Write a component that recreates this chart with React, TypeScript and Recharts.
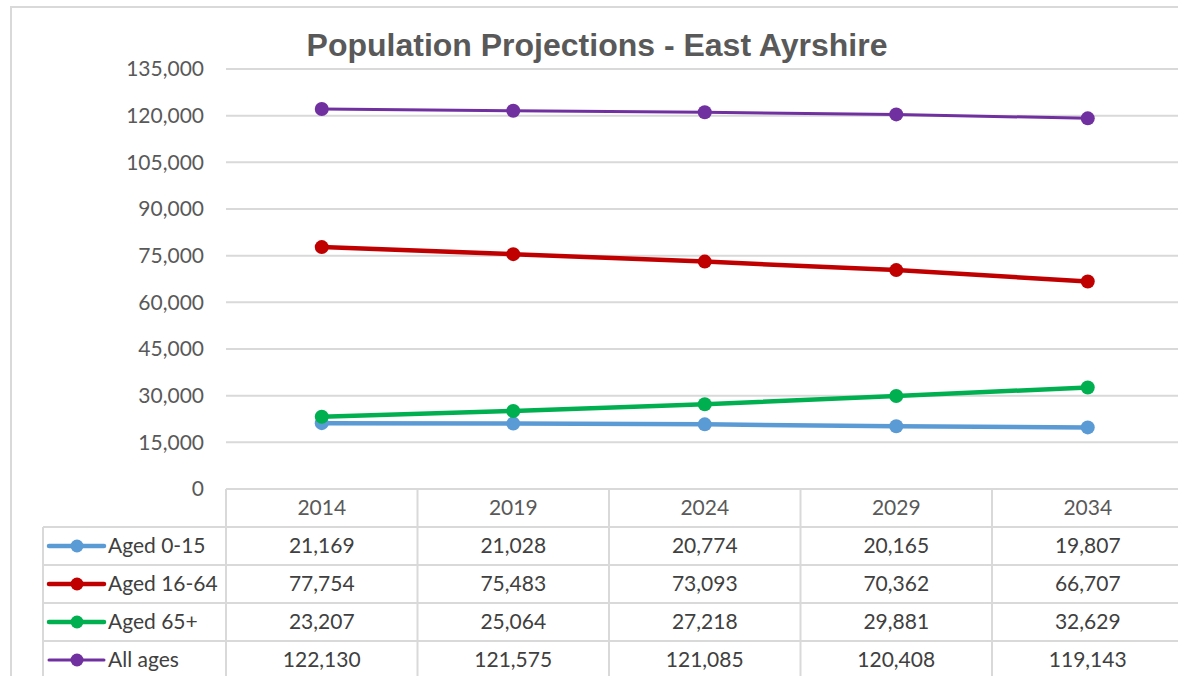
import React from 'react';
import { LineChart, Line, XAxis, YAxis, CartesianGrid } from 'recharts';

const years = ['2014', '2019', '2024', '2029', '2034'];
const aged0to15 = [21169, 21028, 20774, 20165, 19807];
const aged16to64 = [77754, 75483, 73093, 70362, 66707];
const aged65plus = [23207, 25064, 27218, 29881, 32629];
const allAges = [122130, 121575, 121085, 120408, 119143];
const yTicks = [0, 15000, 30000, 45000, 60000, 75000, 90000, 105000, 120000, 135000];

const series = [
  { key: 'young', name: 'Aged 0-15', values: aged0to15, color: '#5B9BD5', width: 4.5 },
  { key: 'working', name: 'Aged 16-64', values: aged16to64, color: '#C00000', width: 4.5 },
  { key: 'old', name: 'Aged 65+', values: aged65plus, color: '#00B050', width: 4.5 },
  { key: 'all', name: 'All ages', values: allAges, color: '#7030A0', width: 3 },
];

const data = years.map((year, i) => {
  const row: Record<string, string | number> = { year };
  series.forEach((s) => (row[s.key] = s.values[i]));
  return row;
});

// layout
const W = 1178;
const H = 676;
const PLOT_LEFT = 226;
const PLOT_TOP = 69;
const PLOT_BOTTOM = 489;
const COL_W = 191.5;
const ROW_H = 38;
const TABLE_LEFT = 43;
const FONT = 'Lato, "Noto Sans", sans-serif';
const GRID = '#d9d9d9';

const fmt = (v: number) => v.toLocaleString('en-US');

function DataTable() {
  const right = PLOT_LEFT + COL_W * years.length;
  const bottom = H + 10;
  return (
    <svg width={W} height={H} style={{ position: 'absolute', left: 0, top: 0, pointerEvents: 'none' }}>
      <text x={597} y={56} textAnchor="middle" fill="#595959" fontSize={32} fontWeight="bold"
        fontFamily='"Liberation Sans Narrow", "Liberation Sans", Arial, sans-serif'>
        Population Projections - East Ayrshire
      </text>
      {/* table grid */}
      <line x1={PLOT_LEFT} y1={PLOT_BOTTOM} x2={PLOT_LEFT} y2={bottom} stroke={GRID} strokeWidth={2} />
      <line x1={TABLE_LEFT} y1={PLOT_BOTTOM + ROW_H} x2={TABLE_LEFT} y2={bottom} stroke={GRID} strokeWidth={2} />
      {years.map((_, i) => (
        <line key={'v' + i} x1={PLOT_LEFT + COL_W * (i + 1)} y1={PLOT_BOTTOM} x2={PLOT_LEFT + COL_W * (i + 1)} y2={bottom} stroke={GRID} strokeWidth={2} />
      ))}
      {series.map((_, r) => (
        <line key={'h' + r} x1={TABLE_LEFT} y1={PLOT_BOTTOM + ROW_H * (r + 1)} x2={right} y2={PLOT_BOTTOM + ROW_H * (r + 1)} stroke={GRID} strokeWidth={2} />
      ))}
      {/* header */}
      {years.map((y, i) => (
        <text key={'y' + i} x={PLOT_LEFT + COL_W * (i + 0.5)} y={PLOT_BOTTOM + ROW_H / 2 + 7} textAnchor="middle"
          fill="#595959" fontSize={21} fontFamily={FONT}>{y}</text>
      ))}
      {series.map((s, r) => {
        const cy = PLOT_BOTTOM + ROW_H * (r + 1.5);
        return (
          <g key={s.key}>
            <line x1={49} y1={cy} x2={104} y2={cy} stroke={s.color} strokeWidth={s.width} strokeLinecap="round" />
            <circle cx={77} cy={cy} r={6.5} fill={s.color} />
            <text x={108} y={cy + 7} fill="#404040" fontSize={21} fontFamily={FONT}>{s.name}</text>
            {s.values.map((v, i) => (
              <text key={i} x={PLOT_LEFT + COL_W * (i + 0.5)} y={cy + 7} textAnchor="middle"
                fill="#404040" fontSize={21} fontFamily={FONT}>{fmt(v)}</text>
            ))}
          </g>
        );
      })}
    </svg>
  );
}

export default function App() {
  const chartW = Math.ceil(PLOT_LEFT + COL_W * years.length);
  return (
    <div style={{ position: 'absolute', left: 0, top: 0, width: W, height: H, overflow: 'hidden', background: '#fff' }}>
      <div style={{ position: 'absolute', left: 10, top: 6, right: -10, bottom: -10, borderLeft: `2px solid ${GRID}`, borderTop: `2px solid ${GRID}` }} />
      <div style={{ position: 'absolute', left: 0, top: 0 }}>
        <LineChart width={chartW} height={H} data={data}
          margin={{ top: PLOT_TOP, right: chartW - PLOT_LEFT - COL_W * years.length, bottom: H - PLOT_BOTTOM, left: 0 }}>
          <CartesianGrid vertical={false} stroke={GRID} strokeWidth={2} />
          <XAxis dataKey="year" hide padding={{ left: COL_W / 2, right: COL_W / 2 }} />
          <YAxis width={PLOT_LEFT} domain={[0, 135000]} ticks={yTicks} interval={0}
            axisLine={false} tickLine={false} tickMargin={16}
            tickFormatter={(v: number) => fmt(v)}
            tick={{ fill: '#595959', fontSize: 21, fontFamily: FONT }} />
          {series.map((s) => (
            <Line key={s.key} dataKey={s.key} name={s.name} stroke={s.color} strokeWidth={s.width}
              dot={{ r: 7, fill: s.color, stroke: 'none' }} activeDot={false} isAnimationActive={false} />
          ))}
        </LineChart>
      </div>
      <DataTable />
    </div>
  );
}
